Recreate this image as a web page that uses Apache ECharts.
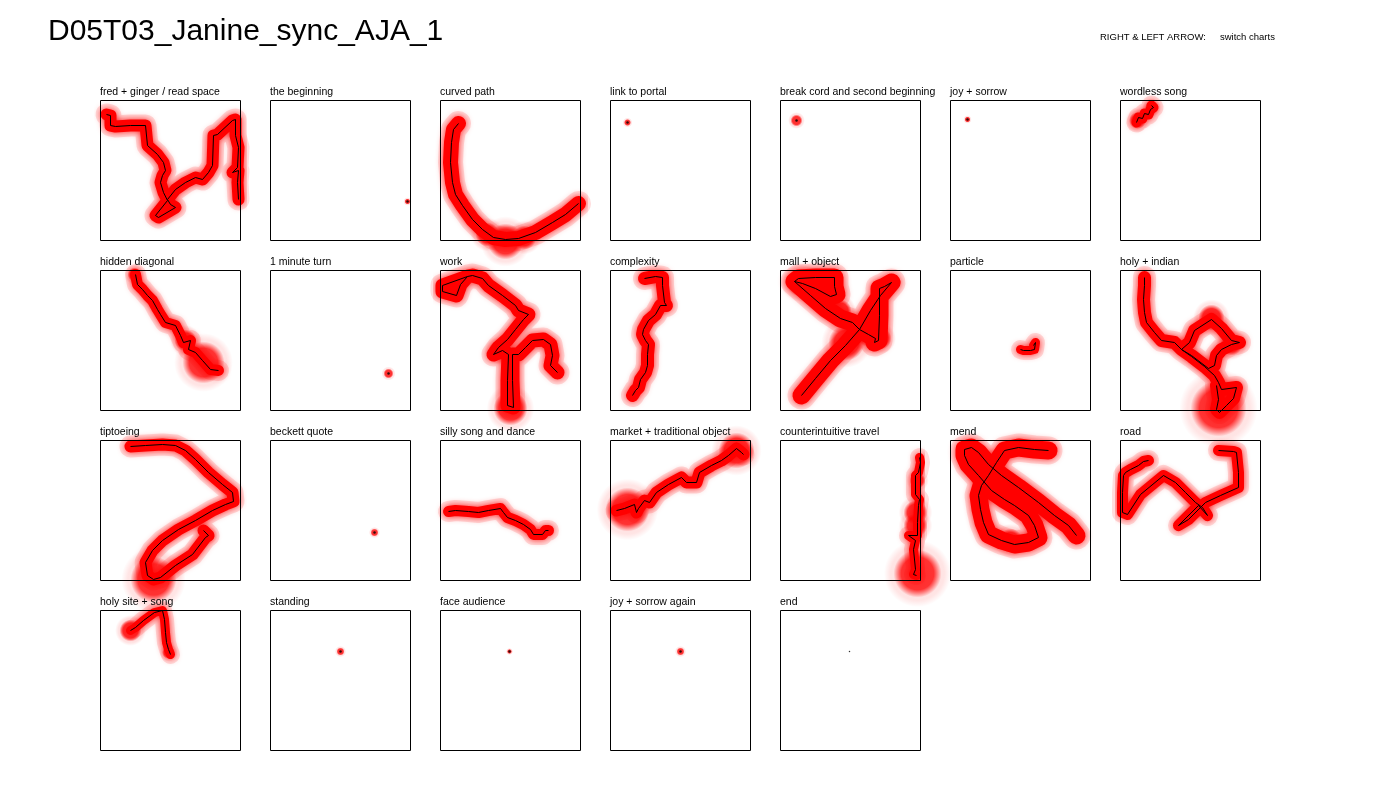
<!DOCTYPE html>
<html><head><meta charset="utf-8">
<script src="https://cdn.jsdelivr.net/npm/echarts@6/dist/echarts.min.js"></script>
<style>html,body{margin:0;padding:0;background:#fff}#c{width:1400px;height:800px}</style>
</head><body><div id="c"></div>
<script>
// Panel titles
const titles = ["fred + ginger / read space","the beginning","curved path","link to portal","break cord and second beginning","joy + sorrow","wordless song","hidden diagonal","1 minute turn","work","complexity","mall + object","particle","holy + indian","tiptoeing","beckett quote","silly song and dance","market + traditional object","counterintuitive travel","mend","road","holy site + song","standing","face audience","joy + sorrow again","end"];

// Paths: [x, y] in stage units (0-140, y grows downward)
const path01 = [[6,14],[10,15],[10,25],[15,26],[30,25],[45,25],[47,27],[47,45],[57,54],[63,62],[65,70],[62,75],[60,82],[63,92],[67,100],[55,115],[58,117],[75,107],[70,104],[67,99],[75,89],[85,82],[95,77],[102,79],[108,72],[112,65],[113,35],[117,34],[132,20],[135,19],[135,35],[138,47],[137,67],[132,72],[138,70],[137,82],[138,99]];
const path02 = [[137,101]];
const path03 = [[18,23],[13,29],[11,42],[10,62],[12,82],[15,94],[22,105],[32,119],[42,129],[53,137],[65,139],[78,138],[95,132],[112,122],[125,114],[138,103]];
const path04 = [[17,22]];
const path05 = [[16,20]];
const path06 = [[17,19]];
const path07 = [[16,22],[18,17],[22,18],[24,13],[28,14],[30,9],[33,7],[31,5]];
const path08 = [[35,4],[37,14],[42,19],[47,25],[52,30],[57,39],[60,44],[65,52],[75,55],[80,65],[83,72],[90,70],[88,79],[95,82],[102,90],[110,99],[118,100]];
const path09 = [[118,103]];
const path10 = [[27,6],[2,15],[2,21],[16,25],[20,14],[27,6],[32,5],[42,8],[48,15],[62,25],[75,35],[78,40],[88,44],[83,49],[75,59],[67,69],[58,77],[53,84],[62,80],[68,84],[67,110],[67,135],[73,137],[72,110],[72,84],[78,84],[85,77],[92,70],[103,69],[110,74],[112,85],[110,95],[117,102]];
const path11 = [[34,8],[45,6],[52,7],[52,15],[54,32],[56,35],[50,35],[45,44],[38,50],[33,59],[32,64],[35,70],[38,74],[37,84],[37,95],[35,102],[30,109],[28,117],[25,120],[22,125]];
const path12 = [[14,11],[18,8],[35,7],[54,7],[54,16],[56,24],[50,26],[35,18],[22,13],[14,11],[30,25],[45,38],[60,48],[72,52],[79,59],[88,64],[95,68],[94,72],[98,70],[99,45],[99,18],[104,16],[111,12],[100,25],[90,40],[79,59],[65,75],[50,90],[35,108],[21,125]];
const path13 = [[70,79],[73,80],[80,80],[84,79],[85,72],[83,75]];
const path14 = [[24,7],[24,15],[23,29],[24,42],[26,52],[34,62],[41,70],[54,72],[61,79],[69,72],[74,60],[91,49],[101,58],[111,70],[119,72],[111,74],[101,79],[96,85],[94,95],[88,98],[71,85],[61,79],[71,86],[84,96],[94,105],[98,112],[101,119],[116,117],[113,128],[106,135],[99,142],[96,139],[98,129],[96,115]];
const path15 = [[30,6],[45,5],[62,4],[75,5],[85,10],[95,19],[108,32],[122,44],[132,52],[133,61],[125,64],[112,70],[95,80],[78,89],[62,100],[52,110],[45,122],[47,135],[53,139],[60,137],[75,125],[92,114],[105,97],[108,95],[103,90]];
const path16 = [[104,92]];
const path17 = [[8,71],[15,70],[28,71],[38,72],[48,70],[60,68],[63,72],[67,77],[75,80],[83,84],[90,89],[93,94],[102,94],[105,90],[108,90]];
const path18 = [[6,70],[14,68],[24,64],[26,72],[28,68],[34,60],[39,62],[46,52],[58,44],[71,37],[76,42],[86,42],[89,32],[101,25],[111,20],[118,15],[126,8],[131,12],[133,14]];
const path19 = [[139,17],[140,22],[138,32],[135,35],[135,54],[139,59],[138,65],[137,82],[137,95],[128,95],[135,100],[133,109],[135,129],[133,134],[136,135]];
const path20 = [[98,10],[84,9],[68,7],[54,10],[46,22],[38,35],[31,45],[28,55],[30,69],[33,82],[38,94],[51,100],[64,104],[78,102],[88,97],[84,85],[78,75],[64,65],[54,59],[41,50],[28,35],[18,24],[14,15],[14,9],[21,7],[28,12],[38,24],[51,35],[68,47],[88,62],[104,75],[118,85],[126,95]];
const path21 = [[28,20],[23,21],[18,25],[10,29],[5,32],[3,35],[2,52],[2,72],[7,74],[20,54],[43,35],[55,42],[65,52],[75,62],[82,67],[87,75],[78,65],[58,85],[68,79],[85,62],[100,55],[118,47],[118,32],[116,12],[113,11],[98,10]];
const path22 = [[30,20],[35,17],[43,10],[54,2],[62,0],[64,9],[65,22],[66,32],[68,39],[70,44]];
const path23 = [[70,41]];
const path24 = [[69,41]];
const path25 = [[70,41]];
const path26 = [[69,41]];

// Dwell spots: [x, y, spread]
const blobs01 = [];
const blobs02 = [[137,101,6]];
const blobs03 = [[65,141,36],[47,134,24],[84,137,24]];
const blobs04 = [[17,22,7]];
const blobs05 = [[16,20,12]];
const blobs06 = [[17,19,6]];
const blobs07 = [[17,20,17],[31,7,13]];
const blobs08 = [[103,92,42],[85,70,22],[34,4,14]];
const blobs09 = [[118,103,10]];
const blobs10 = [[70,138,34],[58,80,20]];
const blobs11 = [];
const blobs12 = [[66,72,36],[90,62,30],[20,12,28],[100,68,22],[60,40,22]];
const blobs13 = [];
const blobs14 = [[98,138,56],[91,47,26],[111,74,22]];
const blobs15 = [[53,139,46],[108,95,13]];
const blobs16 = [[104,92,8]];
const blobs17 = [];
const blobs18 = [[17,69,44],[126,10,36]];
const blobs19 = [[137,133,48],[135,72,24],[135,85,24],[137,40,16]];
const blobs20 = [[60,100,24],[38,30,20]];
const blobs21 = [];
const blobs22 = [[30,20,22],[68,42,13]];
const blobs23 = [[70,41,8]];
const blobs24 = [[69,41,5]];
const blobs25 = [[70,41,8]];
const blobs26 = [];

const paths = [path01,path02,path03,path04,path05,path06,path07,path08,path09,path10,path11,path12,path13,path14,path15,path16,path17,path18,path19,path20,path21,path22,path23,path24,path25,path26];
const blobs = [blobs01,blobs02,blobs03,blobs04,blobs05,blobs06,blobs07,blobs08,blobs09,blobs10,blobs11,blobs12,blobs13,blobs14,blobs15,blobs16,blobs17,blobs18,blobs19,blobs20,blobs21,blobs22,blobs23,blobs24,blobs25,blobs26];
// style: glow band width per panel
const glowWidth = [12,0,15,0,0,0,10,11,0,14,13,18,9,13,12,0,11,12,9,18,11,9,0,0,0,0];

const coreGrad = {type:'radial',x:0.5,y:0.5,r:0.5,colorStops:[
  {offset:0,color:'rgba(255,0,0,1)'},{offset:0.68,color:'rgba(255,0,0,0.97)'},{offset:1,color:'rgba(255,0,0,0)'}]};
const haloGrad = {type:'radial',x:0.5,y:0.5,r:0.5,colorStops:[
  {offset:0,color:'rgba(255,0,0,0.2)'},{offset:0.8,color:'rgba(255,0,0,0.13)'},{offset:1,color:'rgba(255,0,0,0)'}]};

const FONT = 'Liberation Sans';
const option = {animation:false, backgroundColor:'#fff', title:[], grid:[], xAxis:[], yAxis:[], series:[]};
option.title.push({text:'D05T03_Janine_sync_AJA_1',left:43,top:12,padding:5,textStyle:{fontFamily:FONT,fontSize:30,fontWeight:'normal',color:'#000'}});
option.title.push({text:'RIGHT & LEFT ARROW:',left:1095,top:27,padding:5,textStyle:{fontFamily:FONT,fontSize:9.5,fontWeight:'normal',color:'#000'}});
option.title.push({text:'switch charts',left:1215,top:27,padding:5,textStyle:{fontFamily:FONT,fontSize:9.5,fontWeight:'normal',color:'#000'}});

paths.forEach((p,i)=>{
  const col=i%7,row=Math.floor(i/7);
  const L=100+170*col, T=100+170*row;
  option.grid.push({left:L+0.5,top:T+0.5,width:140,height:140,show:true,borderColor:'#000',borderWidth:1,z:10,backgroundColor:'transparent'});
  option.xAxis.push({type:'value',gridIndex:i,min:0,max:140,show:false});
  option.yAxis.push({type:'value',gridIndex:i,min:0,max:140,inverse:true,show:false});
  option.title.push({text:titles[i],left:L-5,top:T-18,padding:5,textStyle:{fontFamily:FONT,fontSize:10.5,fontWeight:'normal',color:'#000'}});
  const w = glowWidth[i];
  if(p.length>1 && w>0){
    option.series.push({type:'line',xAxisIndex:i,yAxisIndex:i,data:p,showSymbol:false,silent:true,clip:false,z:1,
      lineStyle:{color:'rgba(255,0,0,0.13)',width:w+10,cap:'round',join:'round'}});
    option.series.push({type:'line',xAxisIndex:i,yAxisIndex:i,data:p,showSymbol:false,silent:true,clip:false,z:2,
      lineStyle:{color:'#ff0000',width:w,cap:'round',join:'round',shadowBlur:7,shadowColor:'rgba(255,0,0,0.9)'}});
  }
  if(blobs[i].length){
    option.series.push({type:'scatter',xAxisIndex:i,yAxisIndex:i,data:blobs[i],silent:true,clip:false,z:1,
      symbolSize:d=>d[2]*1.4,itemStyle:{color:haloGrad}});
    option.series.push({type:'scatter',xAxisIndex:i,yAxisIndex:i,data:blobs[i],silent:true,clip:false,z:2,
      symbolSize:d=>d[2],itemStyle:{color:coreGrad}});
  }
  if(p.length>1){
    option.series.push({type:'line',xAxisIndex:i,yAxisIndex:i,data:p,showSymbol:false,silent:true,clip:false,z:5,
      lineStyle:{color:'#000',width:1}});
  } else {
    option.series.push({type:'scatter',xAxisIndex:i,yAxisIndex:i,data:p,silent:true,clip:false,z:5,
      symbolSize:i===25?1.5:2.5,itemStyle:{color:'#000'}});
  }
});

const chart = echarts.init(document.getElementById('c'),null,{renderer:'canvas'});
chart.setOption(option);
</script>
</body></html>
